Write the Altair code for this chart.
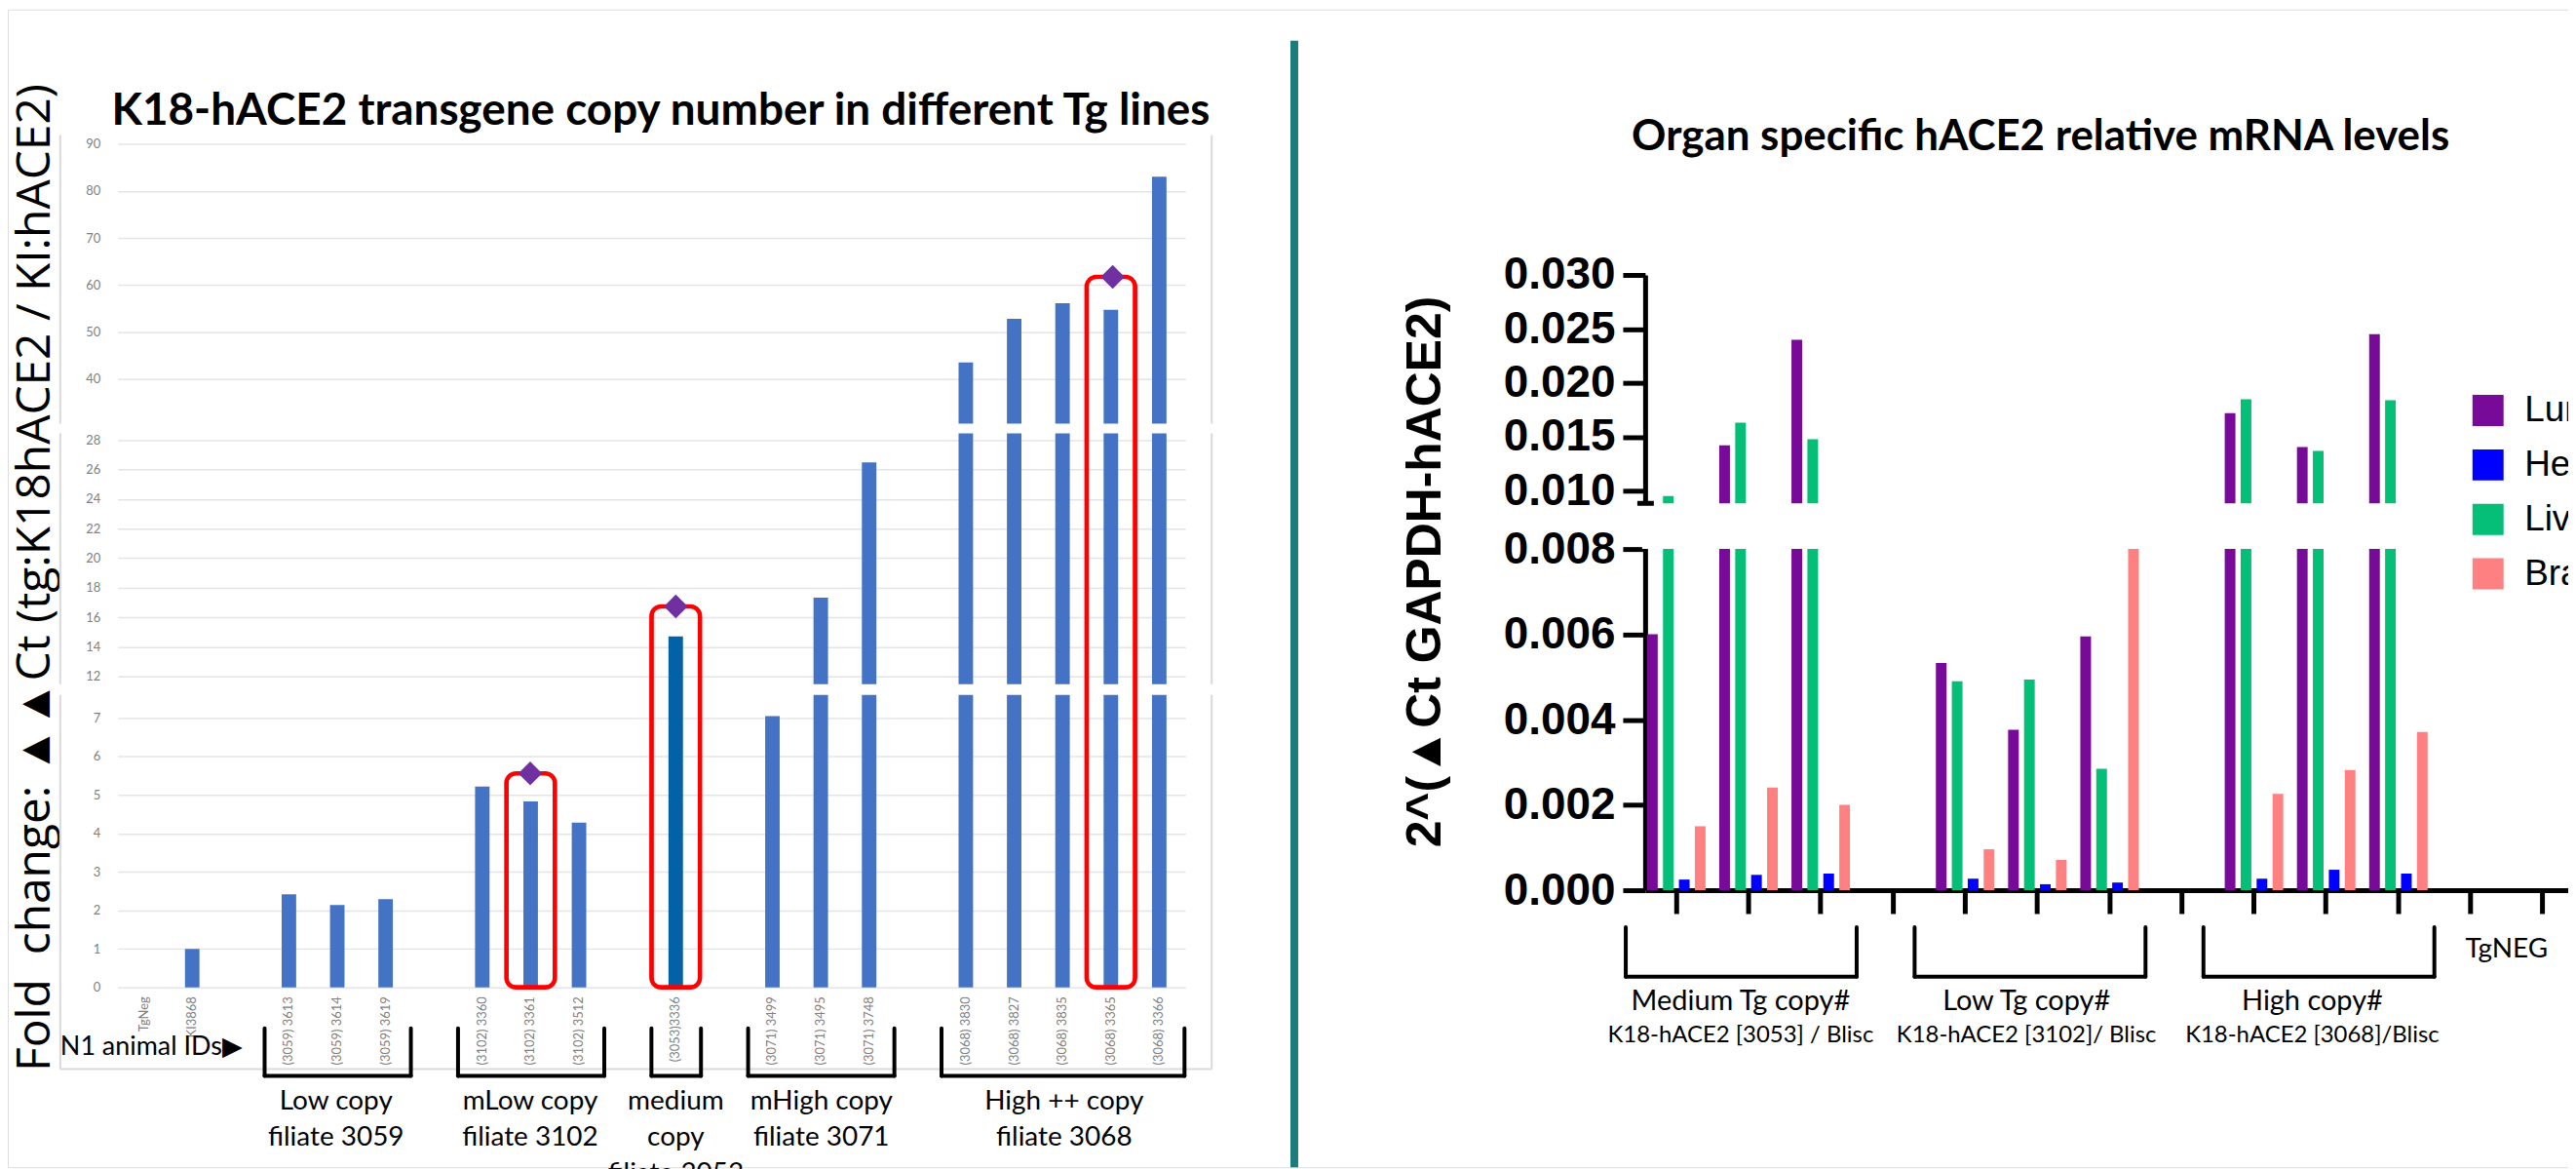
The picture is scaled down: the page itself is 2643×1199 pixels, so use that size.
import altair as alt
import pandas as pd

# ---------------- left panel data: transgene copy number ----------------
slot_ids = ["TgNeg", "KI3868", "_g1",
            "(3059) 3613", "(3059) 3614", "(3059) 3619", "_g2",
            "(3102) 3360", "(3102) 3361", "(3102) 3512", "_g3",
            "(3053)3336", "_g4",
            "(3071) 3499", "(3071) 3495", "(3071) 3748", "_g5",
            "(3068) 3830", "(3068) 3827", "(3068) 3835", "(3068) 3365", "(3068) 3366"]
bar_ids = ["TgNeg", "KI3868", "(3059) 3613", "(3059) 3614", "(3059) 3619",
           "(3102) 3360", "(3102) 3361", "(3102) 3512", "(3053)3336",
           "(3071) 3499", "(3071) 3495", "(3071) 3748",
           "(3068) 3830", "(3068) 3827", "(3068) 3835", "(3068) 3365", "(3068) 3366"]
fold_change = [0, 1.0, 2.42, 2.14, 2.29, 5.22, 4.83, 4.28, 14.7,
               7.05, 17.33, 26.5, 43.5, 52.8, 56.1, 54.7, 83.0]
selected_ids = ["(3102) 3361", "(3053)3336", "(3068) 3365"]
selected_marker = [5.56, 16.74, 61.7]
left_ticks = [0, 1, 2, 3, 4, 5, 6, 7, 12, 14, 16, 18, 20, 22, 24, 26, 28, 40, 50, 60, 70, 80, 90]
line_labels = ["Low  copy\nfiliate 3059", "mLow copy\nfiliate 3102", "medium\ncopy\nfiliate 3053",
               "mHigh copy\nfiliate 3071", "High ++ copy\nfiliate 3068"]
line_first = ["(3059) 3613", "(3102) 3360", "(3053)3336", "(3071) 3499", "(3068) 3830"]
line_mid = ["(3059) 3614", "(3102) 3361", "(3053)3336", "(3071) 3495", "(3068) 3835"]
line_last = ["(3059) 3619", "(3102) 3512", "(3053)3336", "(3071) 3748", "(3068) 3366"]

# ---------------- right panel data: organ specific mRNA ----------------
slots_r = ["M1", "M2", "M3", "_s1", "L1", "L2", "L3", "_s2", "H1", "H2", "H3", "N1", "N2"]
mice = ["M1", "M2", "M3", "L1", "L2", "L3", "H1", "H2", "H3"]
lung = [0.0060, 0.0142, 0.0240, 0.00533, 0.00376, 0.00595, 0.0172, 0.01405, 0.0245]
heart = [0.00025, 0.00036, 0.00039, 0.00027, 0.00014, 0.00018, 0.00027, 0.00048, 0.00039]
liver = [0.0095, 0.0163, 0.01477, 0.0049, 0.00494, 0.00285, 0.01847, 0.01369, 0.01838]
brain = [0.0015, 0.00241, 0.0020, 0.00096, 0.00071, 0.0085, 0.00226, 0.00282, 0.00371]
organs_legend = ["Lung", "Heart", "Liver", "Brain"]
organ_colors = ["#780A99", "#0000FF", "#05BF78", "#FF8080"]
organs_bar_order = ["Lung", "Liver", "Heart", "Brain"]
right_ticks = [0, 0.002, 0.004, 0.006, 0.008, 0.010, 0.015, 0.020, 0.025, 0.030]
tg_groups = ["Medium Tg copy#", "Low Tg copy#", "High copy#"]
tg_constructs = ["K18-hACE2 [3053] / Blisc", "K18-hACE2 [3102]/ Blisc", "K18-hACE2 [3068]/Blisc"]
tg_first = ["M1", "L1", "H1"]
tg_mid = ["M2", "L2", "H2"]
tg_last = ["M3", "L3", "H3"]

# ---------------- tables ----------------
df_bars = pd.DataFrame({"id": bar_ids, "val": fold_change})
df_main = df_bars[df_bars["id"] != "(3053)3336"]
df_med = df_bars[df_bars["id"] == "(3053)3336"]
df_sel = pd.DataFrame({"id": selected_ids, "mark": selected_marker})
df_lines = pd.DataFrame({"label": line_labels, "first": line_first, "mid": line_mid, "last": line_last})
rows = []
for i, m in enumerate(mice):
    for organ, arr in zip(organs_legend, [lung, heart, liver, brain]):
        rows.append({"mouse": m, "organ": organ, "val": arr[i]})
df_r = pd.DataFrame(rows)
df_tg = pd.DataFrame({"g": tg_groups, "c": tg_constructs, "first": tg_first, "mid": tg_mid, "last": tg_last})
one = pd.DataFrame({"k": [0]})

W, H = 2635, 1191

# ---------------- left panel ----------------
def xL():
    return alt.Scale(domain=slot_ids, range=[113, 1212], paddingInner=0.7, paddingOuter=0.393)


def yL():
    return alt.Scale(domain=[0, 7.6, 11.47, 28.46, 30.5, 91.9],
                     range=[1006, 705, 694, 436, 426, 129], nice=False, zero=False)


axL_x = alt.Axis(orient="bottom", offset=-185, title=None, domain=False, ticks=False, tickSize=0,
                 grid=False, labelAngle=270, labelAlign="right", labelBaseline="middle",
                 labelPadding=9, labelFont="Lato", labelColor="#7f7f7f", labelFontSize=13,
                 labelLimit=200,
                 labelExpr="indexof(datum.value, '_g') == 0 ? '' : datum.value")
axL_y = alt.Axis(orient="left", offset=-113, values=left_ticks, grid=True, gridColor="#e4e4e4",
                 gridWidth=1.5, domain=False, ticks=False, tickSize=0, labelPadding=18,
                 labelFont="Lato", labelFontSize=13, labelColor="#808080", labelOverlap=False,
                 title="Fold\u00a0 change: ▲▲Ct (tg:K18hACE2 / KI:hACE2)", titleFont="Open Sans",
                 titleFontSize=48, titleFontWeight="normal", titleColor="black",
                 titleX=-84, titleY=584, titleBaseline="middle")

frame_color = "#d9d9d9"
frame_l = alt.Chart(one).mark_rule(color=frame_color, strokeWidth=2).encode(
    x=alt.value(54), y=alt.value(129), y2=alt.value(1090))
frame_r = alt.Chart(one).mark_rule(color=frame_color, strokeWidth=2).encode(
    x=alt.value(1239), y=alt.value(129), y2=alt.value(1090))
frame_b = alt.Chart(one).mark_rule(color=frame_color, strokeWidth=2).encode(
    x=alt.value(54), x2=alt.value(1239), y=alt.value(1090))

bars_main = alt.Chart(df_main).mark_bar(color="#4472C4").encode(
    x=alt.X("id:N", scale=xL(), axis=axL_x),
    y=alt.Y("val:Q", scale=yL(), axis=axL_y))

gap_l1 = alt.Chart(one).mark_rect(color="white").encode(
    x=alt.value(48), x2=alt.value(1250),
    y=alt.Y(datum=7.6, type="quantitative", scale=yL(), axis=None), y2=alt.Y2(datum=11.47))
gap_l2 = alt.Chart(one).mark_rect(color="white").encode(
    x=alt.value(48), x2=alt.value(1250),
    y=alt.Y(datum=28.46, type="quantitative", scale=yL(), axis=None), y2=alt.Y2(datum=30.5))

bar_med = alt.Chart(df_med).mark_bar(color="#0461A7").encode(
    x=alt.X("id:N", scale=xL(), axis=None),
    y=alt.Y("val:Q", scale=yL(), axis=None))

red_boxes = alt.Chart(df_sel).mark_bar(width=50, fillOpacity=0, stroke="#FF0000", strokeWidth=4.5,
                                        cornerRadius=10, yOffset=-28).encode(
    x=alt.X("id:N", scale=xL(), axis=None),
    y=alt.Y("mark:Q", scale=yL(), axis=None),
    y2=alt.value(1091))

diamonds = alt.Chart(df_sel).mark_point(shape="diamond", filled=True, size=600, color="#7030A0",
                                         opacity=1).encode(
    x=alt.X("id:N", scale=xL(), axis=None),
    y=alt.Y("mark:Q", scale=yL(), axis=None))

br_l = alt.Chart(df_lines).mark_rule(color="black", strokeWidth=4, strokeCap="round", xOffset=-25).encode(
    x=alt.X("first:N", scale=xL(), axis=None), y=alt.value(1048), y2=alt.value(1097))
br_r = alt.Chart(df_lines).mark_rule(color="black", strokeWidth=4, strokeCap="round", xOffset=26).encode(
    x=alt.X("last:N", scale=xL(), axis=None), y=alt.value(1048), y2=alt.value(1097))
br_b = alt.Chart(df_lines).mark_rule(color="black", strokeWidth=4, strokeCap="round",
                                     xOffset=-25, x2Offset=26).encode(
    x=alt.X("first:N", scale=xL(), axis=None), x2=alt.X2("last"), y=alt.value(1097))

line_text = alt.Chart(df_lines).mark_text(font="Lato", fontSize=28, color="black", baseline="top",
                                          align="center", lineBreak="\n", lineHeight=37).encode(
    x=alt.X("mid:N", scale=xL(), axis=None), y=alt.value(1110), text="label:N")

n1_text = alt.Chart(one).mark_text(text="N1 animal IDs▶", font="Lato", fontSize=27, color="black",
                                   align="left", baseline="middle").encode(
    x=alt.value(54), y=alt.value(1067))

left_title = alt.Chart(one).mark_text(text="K18-hACE2 transgene copy number in different Tg lines",
                                      font="Lato", fontWeight="bold", fontSize=46, color="black",
                                      align="center", baseline="middle").encode(
    x=alt.value(672), y=alt.value(105))

# ---------------- right panel ----------------
def xR():
    return alt.Scale(domain=slots_r, range=[1685, 2641], paddingInner=0.19, paddingOuter=0.027)


def yR():
    return alt.Scale(domain=[0, 0.008, 0.00883, 0.030], range=[906, 555, 508, 273], nice=False, zero=False)


axR_y = alt.Axis(orient="left", offset=-1685, values=right_ticks, format=".3f", grid=False,
                 domainColor="black", domainWidth=5, tickColor="black", tickWidth=5, tickSize=23,
                 labelFont="Liberation Sans", labelFontWeight="bold", labelFontSize=46,
                 labelColor="black", labelPadding=8, labelOverlap=False,
                 title="2^(▲Ct GAPDH-hACE2)", titleFont="Liberation Sans", titleFontWeight="bold",
                 titleFontSize=50, titleColor="black", titleX=-226, titleY=578,
                 titleBaseline="middle")
axR_x = alt.Axis(orient="bottom", offset=-285, title=None, grid=False, domainColor="black",
                 domainWidth=5, tickColor="black", tickWidth=5, tickSize=24, bandPosition=0.5,
                 labelAngle=0, labelExpr="datum.value == 'N1' ? 'TgNEG' : ''", labelOffset=37,
                 labelPadding=23, labelFont="Lato", labelFontSize=28, labelColor="black")
leg = alt.Legend(orient="none", legendX=2534, legendY=394, title=None, symbolType="square",
                 symbolSize=1024, symbolStrokeWidth=0, labelFont="Liberation Sans", labelFontSize=37,
                 labelColor="black", rowPadding=18, labelOffset=19, padding=0, labelLimit=300)

bars_r = alt.Chart(df_r).mark_bar().encode(
    x=alt.X("mouse:N", scale=xR(), axis=axR_x),
    xOffset=alt.XOffset("organ:N", scale=alt.Scale(domain=organs_bar_order, paddingInner=0.33,
                                                     paddingOuter=0)),
    y=alt.Y("val:Q", scale=yR(), axis=axR_y),
    color=alt.Color("organ:N", scale=alt.Scale(domain=organs_legend, range=organ_colors), legend=leg))

gap_r = alt.Chart(one).mark_rect(color="white").encode(
    x=alt.value(1682), x2=alt.value(2640),
    y=alt.Y(datum=0.008, type="quantitative", scale=yR(), axis=None), y2=alt.Y2(datum=0.00883))

break_cap = alt.Chart(one).mark_rule(color="black", strokeWidth=5).encode(
    x=alt.value(1677), x2=alt.value(1694),
    y=alt.Y(datum=0.00883, type="quantitative", scale=yR(), axis=None))

rbr_l = alt.Chart(df_tg).mark_rule(color="black", strokeWidth=4, strokeCap="round", xOffset=-52).encode(
    x=alt.X("first:N", scale=xR(), axis=None), y=alt.value(944), y2=alt.value(995))
rbr_r = alt.Chart(df_tg).mark_rule(color="black", strokeWidth=4, strokeCap="round", xOffset=37).encode(
    x=alt.X("last:N", scale=xR(), axis=None), y=alt.value(944), y2=alt.value(995))
rbr_b = alt.Chart(df_tg).mark_rule(color="black", strokeWidth=4, strokeCap="round",
                                   xOffset=-52, x2Offset=37).encode(
    x=alt.X("first:N", scale=xR(), axis=None), x2=alt.X2("last"), y=alt.value(995))

tg_text1 = alt.Chart(df_tg).mark_text(font="Lato", fontSize=29, color="black", align="center",
                                      baseline="middle", dx=-12).encode(
    x=alt.X("mid:N", scale=xR(), axis=None), y=alt.value(1020), text="g:N")
tg_text2 = alt.Chart(df_tg).mark_text(font="Lato", fontSize=24, color="black", align="center",
                                      baseline="middle", dx=-12).encode(
    x=alt.X("mid:N", scale=xR(), axis=None), y=alt.value(1055), text="c:N")

right_title = alt.Chart(one).mark_text(text="Organ specific hACE2 relative mRNA levels",
                                       font="Lato", fontWeight="bold", fontSize=44, color="black",
                                       align="center", baseline="middle").encode(
    x=alt.value(2092), y=alt.value(132))

divider = alt.Chart(one).mark_rule(color="#1C7C7B", strokeWidth=8).encode(
    x=alt.value(1324), y=alt.value(32), y2=alt.value(1191))

chart = alt.layer(
    frame_l, frame_r, frame_b, bars_main, gap_l1, gap_l2, bar_med, red_boxes, diamonds,
    br_l, br_r, br_b, line_text, n1_text, left_title,
    bars_r, gap_r, break_cap, rbr_l, rbr_r, rbr_b, tg_text1, tg_text2, right_title, divider
).resolve_scale(
    x="independent", y="independent"
).properties(
    width=W, height=H,
    autosize=alt.AutoSizeParams(type="none", contains="padding"),
    padding=0,
).configure_view(strokeWidth=0).configure(background="white")

chart.save("out.html", embed_options={"renderer": "svg", "actions": False})
